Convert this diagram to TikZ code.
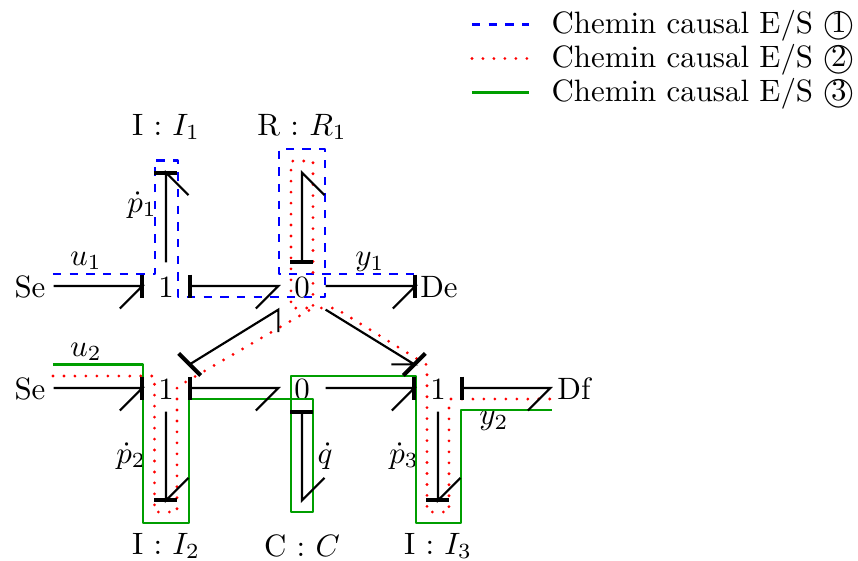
\documentclass[tikz,border=0pt]{standalone}
\usepackage{textcomp}
\usetikzlibrary{calc}
\tikzset{
  x=0.3236pt,y=-0.3236pt,
  junction/.style={inner sep=0pt,minimum width=14.886pt,minimum height=14.886pt,text height=7.2pt,text depth=0pt},
  element/.style={inner sep=0pt,minimum width=14.886pt,minimum height=29.12pt},
  lbl/.style={inner sep=0pt},
  bondline/.style={line width=0.7pt,black},
  barline/.style={line width=1.3pt,black},
  pathone/.style={blue,line width=0.8pt,dash pattern=on 2.7pt off 2.7pt,line join=round},
  pathtwo/.style={red,line width=1pt,line cap=round,dash pattern=on 0pt off 3.55pt,line join=round},
  paththree/.style={green!62!black,line width=0.85pt,line join=round},
  legendtext/.style={inner sep=0pt,anchor=base west}
}
\begin{document}
\begin{tikzpicture}
\useasboundingbox (0,0) rectangle (858,560);
% nodes
\node[junction] (se1) at (30,286) {Se};
\node[junction] (j1) at (166,286) {1};
\node[junction] (z1) at (302,286) {0};
\node[junction] (de) at (439,286) {De};
\node[junction] (se2) at (30,388) {Se};
\node[junction] (j2) at (166,388) {1};
\node[junction] (z2) at (302,388) {0};
\node[junction] (j3) at (438,388) {1};
\node[junction] (df) at (574,388) {Df};
\node[element] (i1) at (166,127) {I : $I_1$};
\node[element] (r1) at (302,127) {R : $R_1$};
\node[element] (i2) at (166,546) {I : $I_2$};
\node[element] (c1) at (302,546) {C : $C$};
\node[element] (i3) at (438,546) {I : $I_3$};
% labels
\node[lbl] (lu1) at (86,261) {$u_1$};
\node[lbl] (ly1) at (370,262) {$y_1$};
\node[lbl] (lp1) at (142,205) {$\dot p_1$};
\node[lbl] (lu2) at (86,352) {$u_2$};
\node[lbl] (lp2) at (131,456) {$\dot p_2$};
\node[lbl] (lq) at (325,456) {$\dot q$};
\node[lbl] (lp3) at (404,456) {$\dot p_3$};
\node[lbl] (ly2) at (494,421) {$y_2$};
% causal paths
\draw[pathone] (53,274) -- (155,274) -- (155,160.5) -- (178,160.5) -- (178,297) -- (325,297) -- (325,149) -- (279,149) -- (279,274) -- (416,274);
\draw[pathtwo] (53,376) -- (154.5,376) -- (154.5,512) -- (177,512) -- (177,387) -- (313,308) -- (291,308) -- (291,161) -- (313,161) -- (313,308) -- (335,308) -- (427,365) -- (427,512) -- (449,512) -- (449,399) -- (551,399);
\draw[paththree] (53,364.5) -- (143,364.5) -- (143,523) -- (189,523) -- (189,399) -- (313,399) -- (313,512) -- (291,512) -- (291,376) -- (416,376) -- (416,523) -- (461,523) -- (461,410) -- (552,410);
% bonds
\draw[bondline] (se1.east) -- (j1.west) -- ++(-22.5,22.5);
\draw[barline] ($(j1.west)+(0,-11.5)$) -- ($(j1.west)+(0,11.5)$);
\draw[bondline] (j1.north) -- (i1.south) -- ++(22.5,22.5);
\draw[barline] ($(i1.south)+(-11.5,0)$) -- ($(i1.south)+(11.5,0)$);
\draw[bondline] (j1.east) -- (z1.west) -- ++(-22.5,22.5);
\draw[barline] ($(j1.east)+(0,-11.5)$) -- ($(j1.east)+(0,11.5)$);
\draw[bondline] (z1.north) -- (r1.south) -- ++(22.5,22.5);
\draw[barline] ($(z1.north)+(-11.5,0)$) -- ($(z1.north)+(11.5,0)$);
\draw[bondline] (z1.east) -- (de.west) -- ++(-22.5,22.5);
\draw[barline] ($(de.west)+(0,-11.5)$) -- ($(de.west)+(0,11.5)$);
\draw[bondline] (j2.north east) -- (z1.south west) -- ++(0,22.5);
\draw[barline] ($(j2.north east)+(-11,-11)$) -- ($(j2.north east)+(11,11)$);
\draw[bondline] (z1.south east) -- (j3.north west) -- ++(-23,0);
\draw[barline] ($(j3.north west)+(11,-11)$) -- ($(j3.north west)+(-11,11)$);
\draw[bondline] (se2.east) -- (j2.west) -- ++(-22.5,22.5);
\draw[barline] ($(j2.west)+(0,-11.5)$) -- ($(j2.west)+(0,11.5)$);
\draw[bondline] (j2.south) -- (i2.north) -- ++(22.5,-22.5);
\draw[barline] ($(i2.north)+(-11.5,0)$) -- ($(i2.north)+(11.5,0)$);
\draw[bondline] (j2.east) -- (z2.west) -- ++(-22.5,22.5);
\draw[barline] ($(j2.east)+(0,-11.5)$) -- ($(j2.east)+(0,11.5)$);
\draw[bondline] (z2.south) -- (c1.north) -- ++(22.5,-22.5);
\draw[barline] ($(z2.south)+(-11.5,0)$) -- ($(z2.south)+(11.5,0)$);
\draw[bondline] (z2.east) -- (j3.west) -- ++(-22.5,22.5);
\draw[barline] ($(j3.west)+(0,-11.5)$) -- ($(j3.west)+(0,11.5)$);
\draw[bondline] (j3.south) -- (i3.north) -- ++(22.5,-22.5);
\draw[barline] ($(i3.north)+(-11.5,0)$) -- ($(i3.north)+(11.5,0)$);
\draw[bondline] (j3.east) -- (df.west) -- ++(-22.5,22.5);
\draw[barline] ($(j3.east)+(0,-11.5)$) -- ($(j3.east)+(0,11.5)$);
% legend
\coordinate (la1) at (472,24.5); \coordinate (lb1) at (529,24.5);
\coordinate (la2) at (472,58.5); \coordinate (lb2) at (529,58.5);
\coordinate (la3) at (472,92.5); \coordinate (lb3) at (529,92.5);
\draw[pathone] (la1) -- (lb1);
\draw[pathtwo] (la2) -- (lb2);
\draw[paththree] (la3) -- (lb3);
\node[legendtext] (t1) at (551,33) {Chemin causal E/S \textcircled{1}};
\node[legendtext] (t2) at (551,67) {Chemin causal E/S \textcircled{2}};
\node[legendtext] (t3) at (551,101) {Chemin causal E/S \textcircled{3}};
\end{tikzpicture}
\end{document}
